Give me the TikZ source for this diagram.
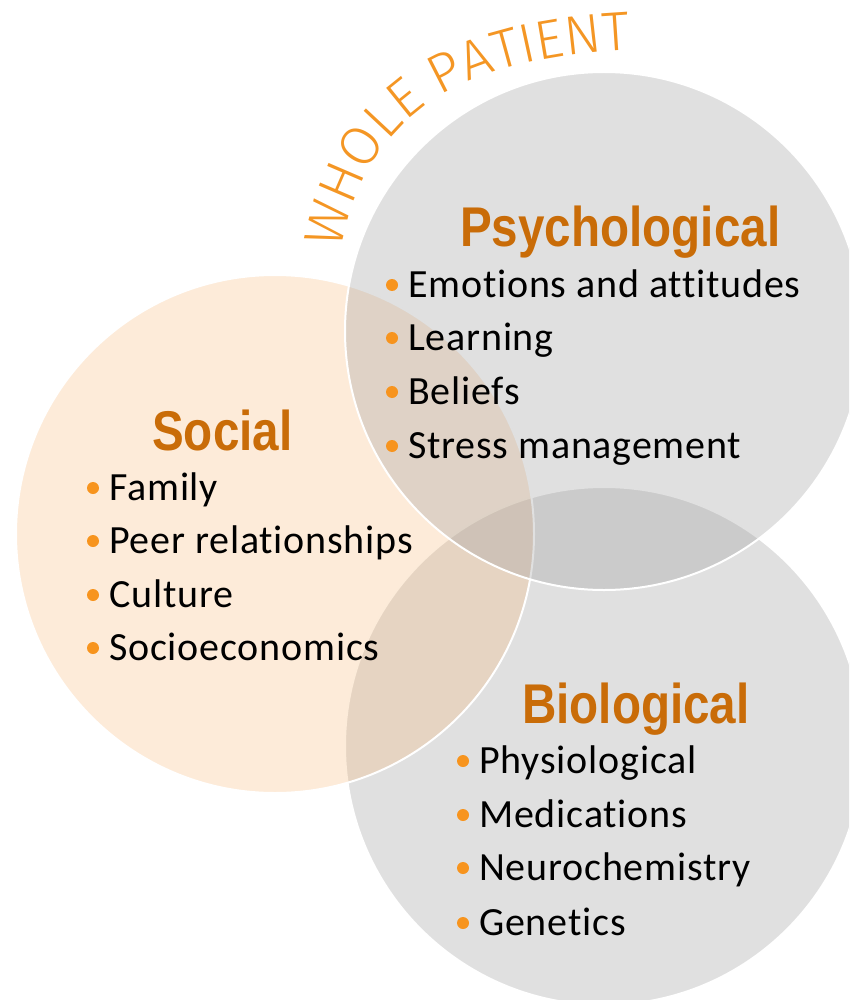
\documentclass[tikz,border=0pt]{standalone}
\usepackage{fontspec}
\setmainfont{Carlito}[Ligatures=NoCommon, LetterSpace=2]
\newfontfamily\titlefont[FakeStretch=0.85]{Liberation Sans}
\newfontfamily\wpfont{Fira Sans Light}
\usetikzlibrary{decorations.text}
\definecolor{titleor}{RGB}{201,108,8}
\definecolor{bulletor}{RGB}{247,148,30}
\definecolor{arcor}{RGB}{244,150,36}
\definecolor{grayfill}{RGB}{159,159,159}
\definecolor{peachfill}{RGB}{247,178,109}
\tikzset{
  circ/.style={draw=white, line width=2pt},
  graycirc/.style={circ, fill=grayfill, fill opacity=0.32},
  peachcirc/.style={circ, fill=peachfill, fill opacity=0.26},
  ttl/.style={anchor=base west, inner sep=0pt, text=titleor, font=\titlefont\bfseries\fontsize{56}{60}\selectfont},
  itm/.style={anchor=base west, inner sep=0pt, text=black, font=\fontsize{40}{44}\selectfont},
  dot/.style={circle, fill=bulletor, inner sep=0pt, minimum size=12pt}
}
\newcommand{\wpfmt}{\wpfont\fontsize{55}{60}\selectfont}
\begin{document}
\begin{tikzpicture}[x=1pt,y=1pt]
\path[use as bounding box] (0,0) rectangle (849,-1000);
\begin{scope}
\clip (0,0) rectangle (849,-1000);
% circles: biological, social, psychological
\path[graycirc] (604,-746) circle[radius=259];
\path[peachcirc] (275,-534) circle[radius=259];
\path[graycirc] (604,-331) circle[radius=259];
\end{scope}
% arc text
\coordinate (arcA) at (341,-250);
\coordinate (arcB) at (628,-50);
\path[decorate, decoration={text along path, text color=arcor,
   text={|\wpfmt|WHOLE PATIENT}, text align={fit to path}}]
  (arcA) .. controls (367,-102) and (478,-58) .. (arcB);
% Psychological
\node[ttl] (psyt) at (460,-247) {Psychological};
\node[dot] (pd1) at (392,-285) {};
\node[itm] (p1) at (408,-297) {Emotions and attitudes};
\node[dot] (pd2) at (392,-338) {};
\node[itm] (p2) at (408,-350) {Learning};
\node[dot] (pd3) at (392,-392) {};
\node[itm] (p3) at (408,-404) {Beliefs};
\node[dot] (pd4) at (392,-446) {};
\node[itm] (p4) at (408,-458) {Stress management};
% Social
\node[ttl] (soct) at (152,-450) {Social};
\node[dot] (sd1) at (93,-488) {};
\node[itm] (s1) at (109,-500) {Family};
\node[dot] (sd2) at (93,-541) {};
\node[itm] (s2) at (109,-553) {Peer relationships};
\node[dot] (sd3) at (93,-595) {};
\node[itm] (s3) at (109,-607) {Culture};
\node[dot] (sd4) at (93,-648) {};
\node[itm] (s4) at (109,-660) {Socioeconomics};
% Biological
\node[ttl] (biot) at (522,-723) {Biological};
\node[dot] (bd1) at (463,-761) {};
\node[itm] (b1) at (479,-773) {Physiological};
\node[dot] (bd2) at (463,-815) {};
\node[itm] (b2) at (479,-827) {Medications};
\node[dot] (bd3) at (463,-868) {};
\node[itm] (b3) at (479,-880) {Neurochemistry};
\node[dot] (bd4) at (463,-923) {};
\node[itm] (b4) at (479,-935) {Genetics};
\end{tikzpicture}
\end{document}
